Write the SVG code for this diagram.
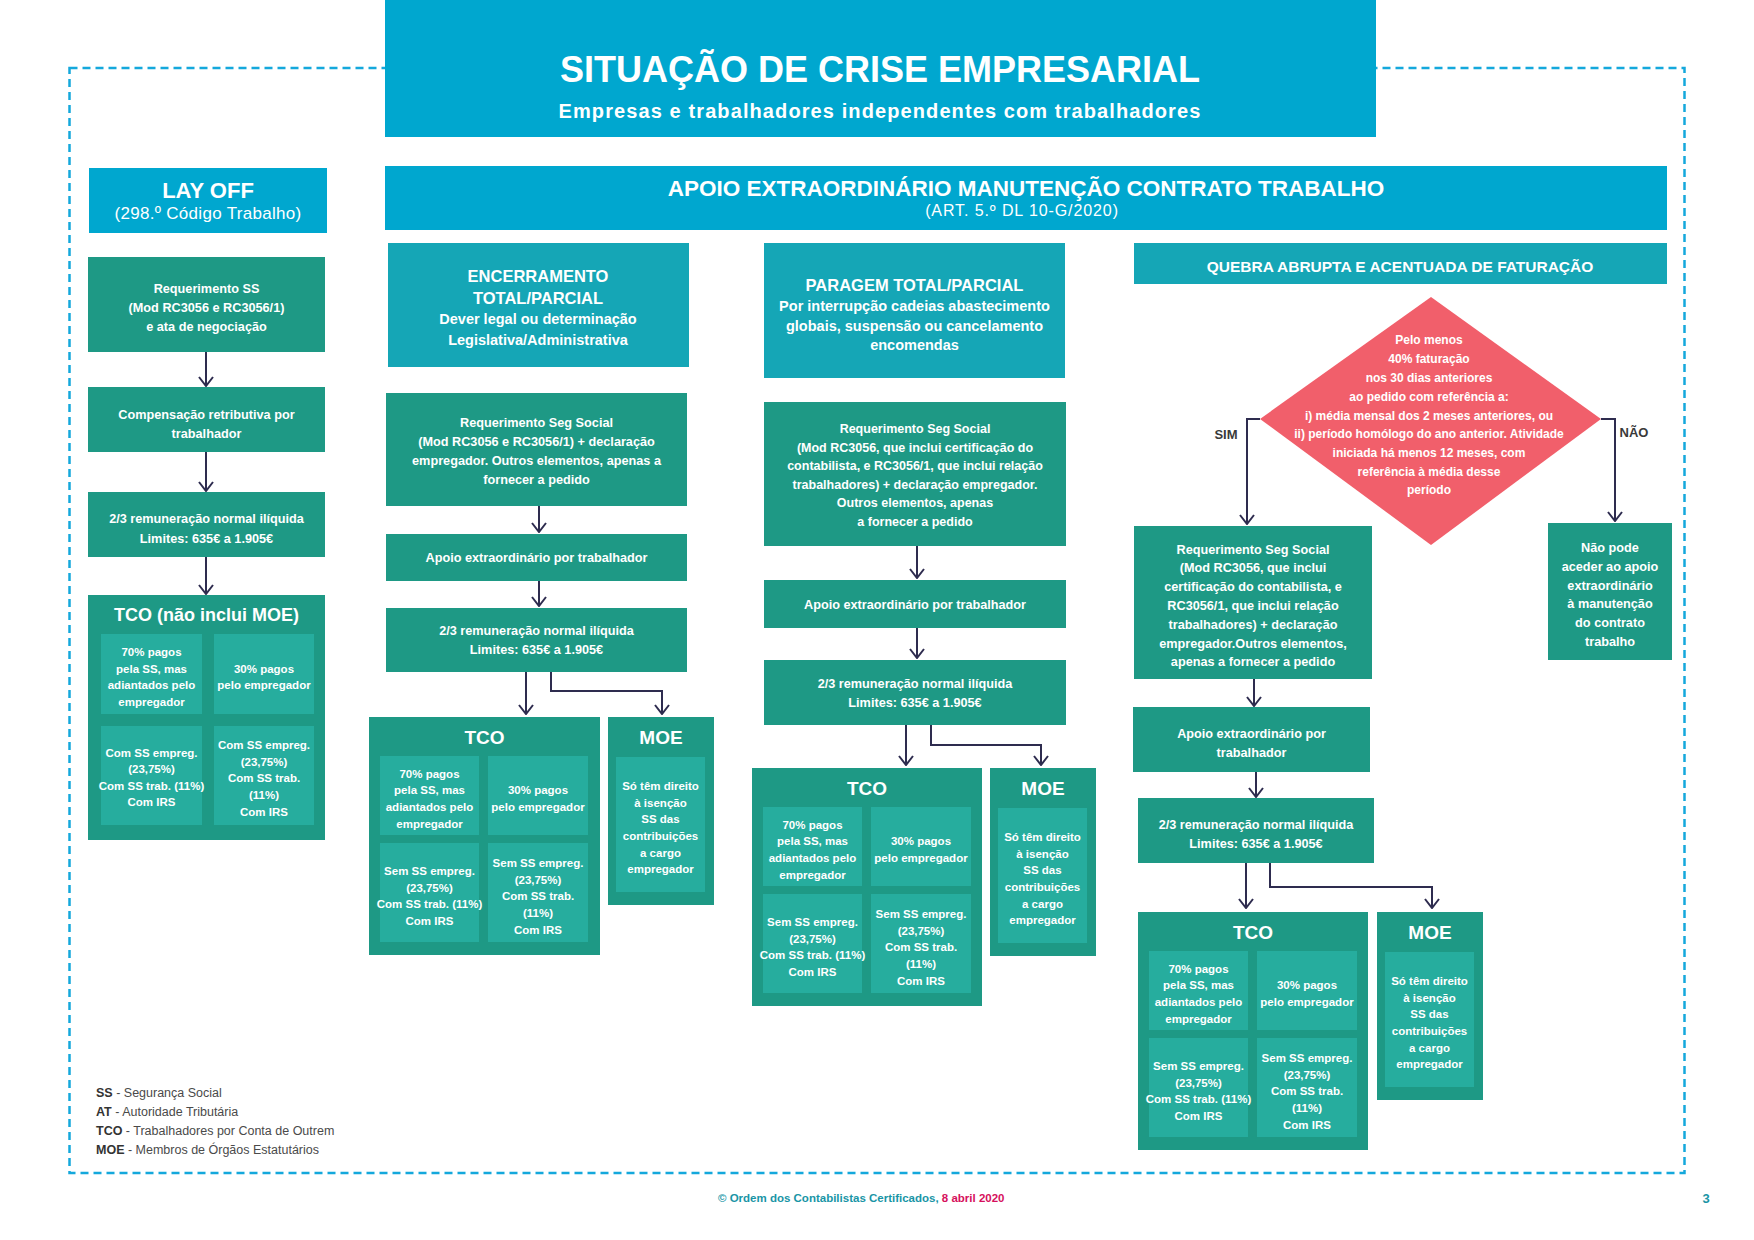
<svg xmlns="http://www.w3.org/2000/svg" width="1754" height="1240" viewBox="0 0 1754 1240">
<defs>
<style>
text{font-family:"Liberation Sans",Arial,sans-serif;}
.w{fill:#fff;font-weight:bold;text-anchor:middle;}
.b{font-size:12.7px;}
.s{font-size:11.5px;}
.h{font-size:16.5px;}
.hs{font-size:14.5px;}
.bx{font-size:19px;}
.cyan{fill:#00a7cf;}
.teal{fill:#15a6b6;}
.green{fill:#1e9985;}
.inner{fill:#26ad9e;}
.dia{fill:#f15f6b;}
.conn{fill:none;stroke:#2e2c4f;stroke-width:2;marker-end:url(#arr);}
.lbl{font-size:13px;font-weight:bold;fill:#3a3a3a;text-anchor:middle;}
.lg{font-size:12.5px;fill:#4a4a4a;}
.lg tspan.k{font-weight:bold;fill:#333;}
</style>
<marker id="arr" viewBox="-1 -8 11 16" refX="9" refY="0" markerWidth="11" markerHeight="16" markerUnits="userSpaceOnUse" orient="auto">
<path d="M0,-7 L9,0 L0,7" fill="none" stroke="#2e2c4f" stroke-width="2"/>
</marker>
</defs>
<rect width="1754" height="1240" fill="#fff"/>
<rect x="69.5" y="68" width="1615" height="1105" fill="none" stroke="#14a8dc" stroke-width="2.5" stroke-dasharray="8 5"/>

<g id="title">
<rect x="385" y="0" width="991" height="137" class="cyan"/>
<text x="880" y="82" class="w" style="font-size:36px">SITUAÇÃO DE CRISE EMPRESARIAL</text>
<text x="880" y="118" class="w" style="font-size:20px;letter-spacing:1.1px">Empresas e trabalhadores independentes com trabalhadores</text>
</g>

<g id="layoff">
<rect x="89" y="168" width="238" height="65" class="cyan"/>
<text x="208" y="198" class="w" style="font-size:22px">LAY OFF</text>
<text x="208" y="219" class="w" style="font-size:17px;font-weight:normal;letter-spacing:0.3px">(298.º Código Trabalho)</text>
</g>

<g id="apoio">
<rect x="385" y="166" width="1282" height="64" class="cyan"/>
<text x="1026" y="196" class="w" style="font-size:22.5px">APOIO EXTRAORDINÁRIO MANUTENÇÃO CONTRATO TRABALHO</text>
<text x="1022" y="216" class="w" style="font-size:16px;font-weight:normal;letter-spacing:0.9px">(ART. 5.º DL 10-G/2020)</text>
</g>

<!-- LAY OFF column -->
<g id="lo-req">
<rect x="88" y="257" width="237" height="95" class="green"/>
<text class="w b"><tspan x="206.5" y="292.5">Requerimento SS</tspan><tspan x="206.5" y="312">(Mod RC3056 e RC3056/1)</tspan><tspan x="206.5" y="331">e ata de negociação</tspan></text>
</g>
<g id="lo-comp">
<rect x="88" y="387" width="237" height="65" class="green"/>
<text class="w b"><tspan x="206.5" y="418.5">Compensação retributiva por</tspan><tspan x="206.5" y="437.5">trabalhador</tspan></text>
</g>
<g id="lo-rem">
<rect x="88" y="492" width="237" height="65" class="green"/>
<text class="w b"><tspan x="206.5" y="522.5">2/3 remuneração normal ilíquida</tspan><tspan x="206.5" y="542.5">Limites: 635€ a 1.905€</tspan></text>
</g>
<g id="lo-tco">
<rect x="88" y="595" width="237" height="245" class="green"/>
<text x="206.5" y="621" class="w" style="font-size:18px">TCO (não inclui MOE)</text>
<rect x="101" y="634" width="101" height="80" class="inner"/>
<rect x="214" y="634" width="100" height="80" class="inner"/>
<rect x="101" y="726" width="101" height="99" class="inner"/>
<rect x="214" y="726" width="100" height="99" class="inner"/>
<text class="w s"><tspan x="151.5" y="656">70% pagos</tspan><tspan x="151.5" y="673">pela SS, mas</tspan><tspan x="151.5" y="689">adiantados pelo</tspan><tspan x="151.5" y="706">empregador</tspan></text>
<text class="w s"><tspan x="264" y="673">30% pagos</tspan><tspan x="264" y="689">pelo empregador</tspan></text>
<text class="w s"><tspan x="151.5" y="757">Com SS empreg.</tspan><tspan x="151.5" y="773">(23,75%)</tspan><tspan x="151.5" y="790">Com SS trab.  (11%)</tspan><tspan x="151.5" y="806">Com IRS</tspan></text>
<text class="w s"><tspan x="264" y="749">Com SS empreg.</tspan><tspan x="264" y="766">(23,75%)</tspan><tspan x="264" y="782">Com SS trab.</tspan><tspan x="264" y="799">(11%)</tspan><tspan x="264" y="816">Com IRS</tspan></text>
</g>

<!-- ENCERRAMENTO column -->
<g id="enc-head">
<rect x="388" y="243" width="301" height="124" class="teal"/>
<text class="w"><tspan x="538" y="282" class="h">ENCERRAMENTO</tspan><tspan x="538" y="304" class="h">TOTAL/PARCIAL</tspan><tspan x="538" y="324" class="hs">Dever legal ou determinação</tspan><tspan x="538" y="345" class="hs">Legislativa/Administrativa</tspan></text>
</g>
<g id="enc-req">
<rect x="386" y="393" width="301" height="113" class="green"/>
<text class="w b"><tspan x="536.5" y="427">Requerimento Seg Social</tspan><tspan x="536.5" y="446">(Mod RC3056 e RC3056/1) + declaração</tspan><tspan x="536.5" y="465">empregador. Outros elementos, apenas a</tspan><tspan x="536.5" y="484">fornecer a pedido</tspan></text>
</g>
<g id="enc-apoio">
<rect x="386" y="534" width="301" height="47" class="green"/>
<text x="536.5" y="562" class="w b">Apoio extraordinário por trabalhador</text>
</g>
<g id="enc-rem">
<rect x="386" y="608" width="301" height="64" class="green"/>
<text class="w b"><tspan x="536.5" y="635">2/3 remuneração normal ilíquida</tspan><tspan x="536.5" y="654">Limites: 635€ a 1.905€</tspan></text>
</g>
<g id="enc-tco">
<rect x="369" y="717" width="231" height="238" class="green"/>
<text x="484.5" y="744" class="w bx">TCO</text>
<rect x="380" y="756" width="99" height="79" class="inner"/>
<rect x="488" y="756" width="100" height="79" class="inner"/>
<rect x="380" y="843" width="99" height="99" class="inner"/>
<rect x="488" y="843" width="100" height="99" class="inner"/>
<text class="w s"><tspan x="429.5" y="777.5">70% pagos</tspan><tspan x="429.5" y="794">pela SS, mas</tspan><tspan x="429.5" y="811">adiantados pelo</tspan><tspan x="429.5" y="827.5">empregador</tspan></text>
<text class="w s"><tspan x="538" y="794">30% pagos</tspan><tspan x="538" y="811">pelo empregador</tspan></text>
<text class="w s"><tspan x="429.5" y="875">Sem SS empreg.</tspan><tspan x="429.5" y="891.5">(23,75%)</tspan><tspan x="429.5" y="908">Com SS trab.  (11%)</tspan><tspan x="429.5" y="924.5">Com IRS</tspan></text>
<text class="w s"><tspan x="538" y="867">Sem SS empreg.</tspan><tspan x="538" y="883.5">(23,75%)</tspan><tspan x="538" y="900">Com SS trab.</tspan><tspan x="538" y="917">(11%)</tspan><tspan x="538" y="933.5">Com IRS</tspan></text>
</g>
<g id="enc-moe">
<rect x="608" y="717" width="106" height="188" class="green"/>
<text x="661" y="744" class="w bx">MOE</text>
<rect x="616" y="757" width="89" height="135" class="inner"/>
<text class="w s"><tspan x="660.5" y="790">Só têm direito</tspan><tspan x="660.5" y="806.5">à isenção</tspan><tspan x="660.5" y="823">SS das</tspan><tspan x="660.5" y="840">contribuições</tspan><tspan x="660.5" y="857">a cargo</tspan><tspan x="660.5" y="873">empregador</tspan></text>
</g>

<!-- PARAGEM column -->
<g id="par-head">
<rect x="764" y="243" width="301" height="135" class="teal"/>
<text class="w"><tspan x="914.5" y="291" class="h">PARAGEM TOTAL/PARCIAL</tspan><tspan x="914.5" y="311" class="hs">Por interrupção cadeias abastecimento</tspan><tspan x="914.5" y="331" class="hs">globais, suspensão ou cancelamento</tspan><tspan x="914.5" y="350" class="hs">encomendas</tspan></text>
</g>
<g id="par-req">
<rect x="764" y="402" width="302" height="144" class="green"/>
<text class="w" style="font-size:12.5px"><tspan x="915" y="433">Requerimento Seg Social</tspan><tspan x="915" y="451.5">(Mod RC3056, que inclui certificação do</tspan><tspan x="915" y="470">contabilista, e RC3056/1, que inclui relação</tspan><tspan x="915" y="488.5">trabalhadores) + declaração empregador.</tspan><tspan x="915" y="507">Outros elementos, apenas</tspan><tspan x="915" y="525.5">a fornecer a pedido</tspan></text>
</g>
<g id="par-apoio">
<rect x="764" y="580" width="302" height="48" class="green"/>
<text x="915" y="608.5" class="w b">Apoio extraordinário por trabalhador</text>
</g>
<g id="par-rem">
<rect x="764" y="660" width="302" height="65" class="green"/>
<text class="w b"><tspan x="915" y="687.5">2/3 remuneração normal ilíquida</tspan><tspan x="915" y="706.5">Limites: 635€ a 1.905€</tspan></text>
</g>
<g id="par-tco">
<rect x="752" y="768" width="230" height="238" class="green"/>
<text x="867" y="795" class="w bx">TCO</text>
<rect x="763" y="807" width="99" height="79" class="inner"/>
<rect x="871" y="807" width="100" height="79" class="inner"/>
<rect x="763" y="894" width="99" height="99" class="inner"/>
<rect x="871" y="894" width="100" height="99" class="inner"/>
<text class="w s"><tspan x="812.5" y="828.5">70% pagos</tspan><tspan x="812.5" y="845">pela SS, mas</tspan><tspan x="812.5" y="862">adiantados pelo</tspan><tspan x="812.5" y="878.5">empregador</tspan></text>
<text class="w s"><tspan x="921" y="845">30% pagos</tspan><tspan x="921" y="862">pelo empregador</tspan></text>
<text class="w s"><tspan x="812.5" y="926">Sem SS empreg.</tspan><tspan x="812.5" y="942.5">(23,75%)</tspan><tspan x="812.5" y="959">Com SS trab.  (11%)</tspan><tspan x="812.5" y="975.5">Com IRS</tspan></text>
<text class="w s"><tspan x="921" y="918">Sem SS empreg.</tspan><tspan x="921" y="934.5">(23,75%)</tspan><tspan x="921" y="951">Com SS trab.</tspan><tspan x="921" y="968">(11%)</tspan><tspan x="921" y="984.5">Com IRS</tspan></text>
</g>
<g id="par-moe">
<rect x="990" y="768" width="106" height="188" class="green"/>
<text x="1043" y="795" class="w bx">MOE</text>
<rect x="998" y="808" width="89" height="135" class="inner"/>
<text class="w s"><tspan x="1042.5" y="841">Só têm direito</tspan><tspan x="1042.5" y="857.5">à isenção</tspan><tspan x="1042.5" y="874">SS das</tspan><tspan x="1042.5" y="891">contribuições</tspan><tspan x="1042.5" y="908">a cargo</tspan><tspan x="1042.5" y="924">empregador</tspan></text>
</g>

<!-- QUEBRA column -->
<g id="que-head">
<rect x="1134" y="243" width="533" height="41" class="teal"/>
<text x="1400" y="272" class="w" style="font-size:15.5px">QUEBRA ABRUPTA E ACENTUADA DE FATURAÇÃO</text>
</g>
<g id="que-dec">
<polygon points="1431,297 1601,419 1431,545 1260,419" class="dia"/>
<text class="w" style="font-size:12px"><tspan x="1429" y="343.5">Pelo menos</tspan><tspan x="1429" y="362.5">40% faturação</tspan><tspan x="1429" y="381.5">nos 30 dias anteriores</tspan><tspan x="1429" y="400.5">ao pedido com referência a:</tspan><tspan x="1429" y="419.5">i) média mensal dos 2 meses anteriores, ou</tspan><tspan x="1429" y="437.5">ii) período homólogo do ano anterior. Atividade</tspan><tspan x="1429" y="456.5">iniciada há menos 12 meses, com</tspan><tspan x="1429" y="475.5">referência à média desse</tspan><tspan x="1429" y="493.5">período</tspan></text>
</g>
<g id="que-req">
<rect x="1134" y="526" width="238" height="153" class="green"/>
<text class="w b"><tspan x="1253" y="553.5">Requerimento Seg Social</tspan><tspan x="1253" y="571.5">(Mod RC3056, que inclui</tspan><tspan x="1253" y="590.5">certificação do contabilista, e</tspan><tspan x="1253" y="609.5">RC3056/1, que inclui relação</tspan><tspan x="1253" y="628.5">trabalhadores) + declaração</tspan><tspan x="1253" y="647.5">empregador.Outros elementos,</tspan><tspan x="1253" y="665.5">apenas a fornecer a pedido</tspan></text>
</g>
<g id="que-nao">
<rect x="1548" y="523" width="124" height="137" class="green"/>
<text class="w b"><tspan x="1610" y="551.5">Não pode</tspan><tspan x="1610" y="570.5">aceder ao apoio</tspan><tspan x="1610" y="589.5">extraordinário</tspan><tspan x="1610" y="607.5">à manutenção</tspan><tspan x="1610" y="626.5">do contrato</tspan><tspan x="1610" y="645.5">trabalho</tspan></text>
</g>
<g id="que-apoio">
<rect x="1133" y="707" width="237" height="65" class="green"/>
<text class="w b"><tspan x="1251.5" y="737.5">Apoio extraordinário por</tspan><tspan x="1251.5" y="756.5">trabalhador</tspan></text>
</g>
<g id="que-rem">
<rect x="1138" y="798" width="236" height="65" class="green"/>
<text class="w b"><tspan x="1256" y="828.5">2/3 remuneração normal ilíquida</tspan><tspan x="1256" y="847.5">Limites: 635€ a 1.905€</tspan></text>
</g>
<g id="que-tco">
<rect x="1138" y="912" width="230" height="238" class="green"/>
<text x="1253" y="939" class="w bx">TCO</text>
<rect x="1149" y="951" width="99" height="79" class="inner"/>
<rect x="1257" y="951" width="100" height="79" class="inner"/>
<rect x="1149" y="1038" width="99" height="99" class="inner"/>
<rect x="1257" y="1038" width="100" height="99" class="inner"/>
<text class="w s"><tspan x="1198.5" y="972.5">70% pagos</tspan><tspan x="1198.5" y="989">pela SS, mas</tspan><tspan x="1198.5" y="1006">adiantados pelo</tspan><tspan x="1198.5" y="1022.5">empregador</tspan></text>
<text class="w s"><tspan x="1307" y="989">30% pagos</tspan><tspan x="1307" y="1006">pelo empregador</tspan></text>
<text class="w s"><tspan x="1198.5" y="1070">Sem SS empreg.</tspan><tspan x="1198.5" y="1086.5">(23,75%)</tspan><tspan x="1198.5" y="1103">Com SS trab.  (11%)</tspan><tspan x="1198.5" y="1119.5">Com IRS</tspan></text>
<text class="w s"><tspan x="1307" y="1062">Sem SS empreg.</tspan><tspan x="1307" y="1078.5">(23,75%)</tspan><tspan x="1307" y="1095">Com SS trab.</tspan><tspan x="1307" y="1112">(11%)</tspan><tspan x="1307" y="1128.5">Com IRS</tspan></text>
</g>
<g id="que-moe">
<rect x="1377" y="912" width="106" height="188" class="green"/>
<text x="1430" y="939" class="w bx">MOE</text>
<rect x="1385" y="952" width="89" height="135" class="inner"/>
<text class="w s"><tspan x="1429.5" y="985">Só têm direito</tspan><tspan x="1429.5" y="1001.5">à isenção</tspan><tspan x="1429.5" y="1018">SS das</tspan><tspan x="1429.5" y="1035">contribuições</tspan><tspan x="1429.5" y="1052">a cargo</tspan><tspan x="1429.5" y="1068">empregador</tspan></text>
</g>

<g id="connectors">
<path class="conn" d="M206,352 V386"/>
<path class="conn" d="M206,452 V491"/>
<path class="conn" d="M206,557 V594"/>
<path class="conn" d="M539,506 V532"/>
<path class="conn" d="M539,581 V606"/>
<path class="conn" d="M526,672 V714"/>
<path class="conn" d="M551,672 V691 H662 V714"/>
<path class="conn" d="M917,546 V578"/>
<path class="conn" d="M917,628 V658"/>
<path class="conn" d="M906,725 V765"/>
<path class="conn" d="M931,725 V745 H1041 V765"/>
<path class="conn" d="M1260,419 H1247 V524"/>
<path class="conn" d="M1601,419 H1615 V521"/>
<path class="conn" d="M1254,679 V706"/>
<path class="conn" d="M1256,772 V797"/>
<path class="conn" d="M1246,863 V908"/>
<path class="conn" d="M1270,863 V887 H1432 V908"/>
<text x="1226" y="439" class="lbl">SIM</text>
<text x="1634" y="437" class="lbl">NÃO</text>
</g>

<g id="legend">
<text x="96" y="1097" class="lg"><tspan class="k">SS</tspan> - Segurança Social</text>
<text x="96" y="1116" class="lg"><tspan class="k">AT</tspan> - Autoridade Tributária</text>
<text x="96" y="1135" class="lg"><tspan class="k">TCO</tspan> - Trabalhadores por Conta de Outrem</text>
<text x="96" y="1154" class="lg"><tspan class="k">MOE</tspan> - Membros de Órgãos Estatutários</text>
</g>

<g id="footer">
<text x="718" y="1202" style="font-size:11.5px;font-weight:bold;fill:#1995a6">© Ordem dos Contabilistas Certificados, <tspan style="fill:#d6105c">8 abril 2020</tspan></text>
<text x="1706" y="1203" style="font-size:13px;font-weight:bold;fill:#1995a6;text-anchor:middle">3</text>
</g>
</svg>
